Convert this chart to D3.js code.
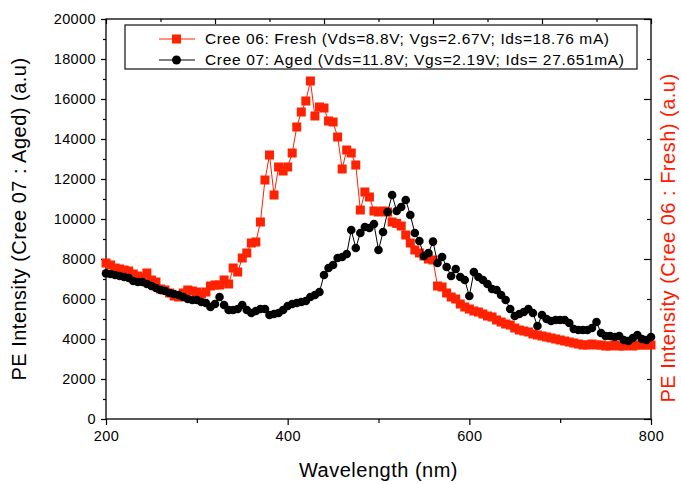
<!DOCTYPE html>
<html>
<head>
<meta charset="utf-8">
<script src="https://cdn.jsdelivr.net/npm/d3@7"></script>
<style>
  body { margin: 0; background: #fff; }
  svg text { font-family: "Liberation Sans", Arial, sans-serif; }
</style>
</head>
<body>
<div id="chart"></div>
<script>
// Wavelength grid (nm) shared by both spectra
const wavelength = [
  200, 205, 210, 215, 220, 225, 230, 235, 240, 245,
  250, 255, 260, 265, 270, 275, 280, 285, 290, 295,
  300, 305, 310, 315, 320, 325, 330, 335, 340, 345,
  350, 355, 360, 365, 370, 375, 380, 385, 390, 395,
  400, 405, 410, 415, 420, 425, 430, 435, 440, 445,
  450, 455, 460, 465, 470, 475, 480, 485, 490, 495,
  500, 505, 510, 515, 520, 525, 530, 535, 540, 545,
  550, 555, 560, 565, 570, 575, 580, 585, 590, 595,
  600, 605, 610, 615, 620, 625, 630, 635, 640, 645,
  650, 655, 660, 665, 670, 675, 680, 685, 690, 695,
  700, 705, 710, 715, 720, 725, 730, 735, 740, 745,
  750, 755, 760, 765, 770, 775, 780, 785, 790, 795,
  800
];

// Cree 06 : Fresh (red squares)
const freshIntensity = [
  7800, 7700, 7550, 7500, 7450, 7400, 7250, 7150, 7050, 7300,
  6950, 6850, 6500, 6450, 6300, 6150, 6100, 6300, 6450, 6400,
  6350, 6250, 6350, 6650, 6700, 6700, 6950, 6750, 7550, 7350,
  8050, 8300, 8800, 8850, 9850, 11950, 13200, 11200, 12600, 12400,
  12600, 13300, 14600, 15350, 15900, 16900, 15150, 15600, 15550, 14900,
  14850, 14100, 12500, 13450, 13300, 12700, 10450, 11350, 11100, 10400,
  10350, 10400, 10350, 9850, 9780, 9650, 9200, 8800, 8450, 8300,
  8150, 8000, 7950, 6650, 6600, 6300, 6100, 6000, 5750, 5600,
  5500, 5400, 5350, 5250, 5150, 5100, 4950, 4850, 4750, 4700,
  4550, 4450, 4400, 4350, 4250, 4200, 4150, 4100, 4050, 4000,
  3950, 3900, 3850, 3800, 3750, 3700, 3700, 3750, 3700, 3700,
  3650, 3650, 3700, 3650, 3650, 3700, 3650, 3700, 3700, 3700,
  3700
];

// Cree 07 : Aged (black circles)
const agedIntensity = [
  7280, 7250, 7200, 7150, 7100, 7050, 6900, 6850, 6850, 6750,
  6650, 6550, 6450, 6400, 6300, 6250, 6200, 6100, 6000, 5950,
  5950, 5850, 5800, 5600, 5750, 6100, 5700, 5450, 5450, 5500,
  5700, 5450, 5300, 5400, 5500, 5500, 5200, 5250, 5300, 5450,
  5650, 5750, 5800, 5850, 5900, 6100, 6200, 6350, 7200, 7550,
  7700, 8050, 8100, 8250, 9450, 8550, 9300, 9600, 9550, 9750,
  8450, 9350, 10350, 11200, 10400, 10600, 10950, 10200, 9300, 8900,
  8150, 8300, 8870, 7800, 8100, 7600, 7150, 7500, 7100, 6950,
  6150, 7350, 7100, 6950, 6750, 6500, 6450, 6200, 5950, 5500,
  5150, 5250, 5350, 5500, 5300, 4650, 5200, 5000, 4900, 4950,
  4950, 4950, 4800, 4500, 4450, 4450, 4450, 4550, 4850, 4300,
  4150, 4150, 4100, 4150, 3950, 3900, 4050, 4200, 4000, 3950,
  4100
];

const xTicks = [200, 400, 600, 800];
const xMinorTicks = [300, 500, 700];
const yTicks = [0, 2000, 4000, 6000, 8000, 10000, 12000, 14000, 16000, 18000, 20000];
const yMinorTicks = [1000, 3000, 5000, 7000, 9000, 11000, 13000, 15000, 17000, 19000];
const rightTicks = [0, 4000, 8000, 12000, 16000, 20000];
const rightMinorTicks = [2000, 6000, 10000, 14000, 18000];
const topTicks = [0, 2, 4, 6, 8, 10];
const topMinorTicks = [1, 3, 5, 7, 9];

const legendLabels = [
  'Cree 06: Fresh (Vds=8.8V; Vgs=2.67V; Ids=18.76 mA)',
  'Cree 07: Aged (Vds=11.8V; Vgs=2.19V; Ids= 27.651mA)'
];
const legendWidths = [404, 419];

const RED = '#ff2200';
const W = 681, H = 484;
const margin = { top: 19, right: 30, bottom: 65, left: 106 };

const x = d3.scaleLinear().domain([200, 800]).range([margin.left, W - margin.right]);
const y = d3.scaleLinear().domain([0, 20000]).range([H - margin.bottom, margin.top]);
const xTop = d3.scaleLinear().domain([0, 10]).range(x.range());

const svg = d3.select('#chart').append('svg')
  .attr('width', W).attr('height', H);

function styleAxis(g) {
  g.select('.domain').remove();
  g.selectAll('.tick line').attr('stroke', '#000').attr('stroke-width', 1.2);
  g.selectAll('.tick text').style('font-size', '14.5px').style('letter-spacing', '0.4px').attr('fill', '#000');
}

// bottom axis
svg.append('g')
  .attr('transform', `translate(0,${y(0)})`)
  .call(d3.axisBottom(x).tickValues(xTicks).tickSize(6).tickPadding(6).tickFormat(d3.format('d')))
  .call(styleAxis);
svg.append('g')
  .attr('transform', `translate(0,${y(0)})`)
  .call(d3.axisBottom(x).tickValues(xMinorTicks).tickSize(4).tickFormat(''))
  .call(styleAxis);

// left axis
svg.append('g')
  .attr('transform', `translate(${x(200)},0)`)
  .call(d3.axisLeft(y).tickValues(yTicks).tickSize(5).tickPadding(5).tickFormat(d3.format('d')))
  .call(styleAxis);
svg.append('g')
  .attr('transform', `translate(${x(200)},0)`)
  .call(d3.axisLeft(y).tickValues(yMinorTicks).tickSize(3).tickFormat(''))
  .call(styleAxis);

// right axis (ticks inside, no labels)
svg.append('g')
  .attr('transform', `translate(${x(800)},0)`)
  .call(d3.axisRight(y).tickValues(rightTicks).tickSize(-7).tickFormat(''))
  .call(styleAxis);
svg.append('g')
  .attr('transform', `translate(${x(800)},0)`)
  .call(d3.axisRight(y).tickValues(rightMinorTicks).tickSize(-4).tickFormat(''))
  .call(styleAxis);

// top axis (ticks inside, no labels)
svg.append('g')
  .attr('transform', `translate(0,${y(20000)})`)
  .call(d3.axisTop(xTop).tickValues(topTicks).tickSize(-5).tickFormat(''))
  .call(styleAxis);
svg.append('g')
  .attr('transform', `translate(0,${y(20000)})`)
  .call(d3.axisTop(xTop).tickValues(topMinorTicks).tickSize(-3).tickFormat(''))
  .call(styleAxis);

// frame
svg.append('rect')
  .attr('x', x(200)).attr('y', y(20000))
  .attr('width', x(800) - x(200)).attr('height', y(0) - y(20000))
  .attr('fill', 'none').attr('stroke', '#000').attr('stroke-width', 1.3);

// series
const fresh = wavelength.map((w, i) => ({ w, v: freshIntensity[i] }));
const aged = wavelength.map((w, i) => ({ w, v: agedIntensity[i] }));
const line = d3.line().x(d => x(d.w)).y(d => y(d.v));

svg.append('path').datum(fresh)
  .attr('d', line).attr('fill', 'none').attr('stroke', RED).attr('stroke-width', 1);
svg.append('g').selectAll('rect').data(fresh).join('rect')
  .attr('x', d => x(d.w) - 4.5).attr('y', d => y(d.v) - 4.5)
  .attr('width', 9).attr('height', 9)
  .attr('fill', RED);

svg.append('path').datum(aged)
  .attr('d', line).attr('fill', 'none').attr('stroke', '#000').attr('stroke-width', 1);
svg.append('g').selectAll('circle').data(aged).join('circle')
  .attr('cx', d => x(d.w)).attr('cy', d => y(d.v))
  .attr('r', 4.3).attr('fill', '#000');

// legend
const legend = svg.append('g');
legend.append('rect')
  .attr('x', 125).attr('y', 25).attr('width', 512).attr('height', 44)
  .attr('fill', '#fff').attr('stroke', '#222').attr('stroke-width', 1.3);

legendLabels.forEach((label, i) => {
  const ly = 39 + i * 21;
  const color = i === 0 ? RED : '#000';
  legend.append('line')
    .attr('x1', 159).attr('x2', 195).attr('y1', ly).attr('y2', ly)
    .attr('stroke', color).attr('stroke-width', 1);
  if (i === 0) {
    legend.append('rect').attr('x', 172).attr('y', ly - 4.5)
      .attr('width', 9).attr('height', 9).attr('fill', color);
  } else {
    legend.append('circle').attr('cx', 176.5).attr('cy', ly).attr('r', 4.5).attr('fill', color);
  }
  legend.append('text')
    .attr('x', 205).attr('y', ly).attr('dy', '0.35em')
    .style('font-size', '15.5px').attr('fill', '#000')
    .attr('textLength', legendWidths[i]).attr('lengthAdjust', 'spacing')
    .text(label);
});

// axis titles
svg.append('text')
  .attr('x', (x(200) + x(800)) / 2).attr('y', 470).attr('dy', '0.35em')
  .attr('text-anchor', 'middle').style('font-size', '20px').style('letter-spacing', '0.5px').attr('fill', '#000')
  .text('Wavelength (nm)');

svg.append('text')
  .attr('transform', `translate(19,${(y(0) + y(20000)) / 2}) rotate(-90)`)
  .attr('dy', '0.35em').attr('text-anchor', 'middle')
  .style('font-size', '20px').style('letter-spacing', '0.5px').attr('fill', '#000')
  .text('PE Intensity (Cree 07 : Aged) (a.u)');

svg.append('text')
  .attr('transform', `translate(668,238) rotate(-90)`)
  .attr('dy', '0.35em').attr('text-anchor', 'middle')
  .style('font-size', '20px').style('letter-spacing', '0.5px').attr('fill', '#ff1a00')
  .text('PE Intensity (Cree 06 : Fresh) (a.u)');
</script>
</body>
</html>
